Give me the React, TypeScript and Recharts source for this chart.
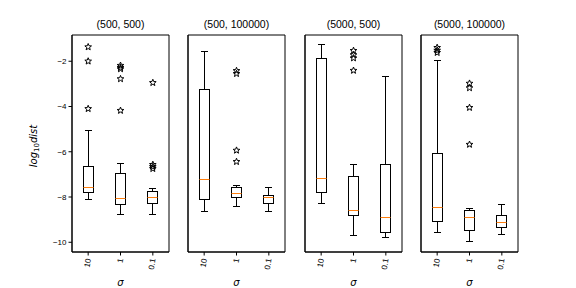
import { Bar, ComposedChart, ReferenceArea, Scatter, XAxis, YAxis } from 'recharts';

const panelTitles = ['(500, 500)', '(500, 100000)', '(5000, 500)', '(5000, 100000)'];
const sigmas = ['10', '1', '0.1'];
const yTicks = [-2, -4, -6, -8, -10];
const yDomain = [-10.43, -0.84];

// one row per panel, one value per sigma
const whiskerLow = [
  [-8.11, -8.77, -8.77],
  [-8.62, -8.4, -8.62],
  [-8.27, -9.69, -9.81],
  [-9.56, -9.96, -9.65],
];
const q1 = [
  [-7.78, -8.33, -8.29],
  [-8.11, -8.02, -8.27],
  [-7.79, -8.81, -9.55],
  [-9.06, -9.46, -9.34],
];
const median = [
  [-7.6, -8.07, -8.02],
  [-7.23, -7.83, -8.02],
  [-7.19, -8.58, -8.9],
  [-8.45, -8.9, -9.12],
];
const q3 = [
  [-6.66, -6.97, -7.76],
  [-3.25, -7.58, -7.93],
  [-1.87, -7.1, -6.56],
  [-6.09, -8.59, -8.81],
];
const whiskerHigh = [
  [-5.05, -6.53, -7.64],
  [-1.58, -7.5, -7.6],
  [-1.24, -6.56, -2.66],
  [-1.96, -8.51, -8.33],
];
const fliers = [
  [[-1.37, -2.0, -4.1], [-2.19, -2.28, -2.34, -2.78, -4.18], [-2.95, -6.57, -6.66, -6.75]],
  [[], [-2.42, -2.55, -5.94, -6.44], []],
  [[], [-1.53, -1.72, -1.86, -2.41], []],
  [[-1.4, -1.52, -1.62], [-2.98, -3.18, -4.05, -5.68], []],
];

const FONT = '"Liberation Sans", Arial, sans-serif';
const MATH_FONT = '"DejaVu Sans", sans-serif';
const ORANGE = '#ff7f0e';
const PLOT_W = 97;
const MAX_FLIERS = 5;

const fmt = (v: number) => String(v).replace('-', '\u2212');
// snap to pixel centres so 1px lines stay crisp
const crisp = (v: number) => Math.round(v - 0.5) + 0.5;

function BoxShape(props: any) {
  const { x, y, width, height, payload } = props;
  if (height == null || isNaN(y)) return <g />;
  const { lo, hi } = payload;
  const py = (v: number) => crisp(y + ((hi - v) / (hi - lo)) * height);
  const x0 = crisp(x);
  const x1 = crisp(x + width);
  const cx = crisp(x + width / 2);
  const cap = 3.5;
  return (
    <g fill="none" stroke="#000" strokeWidth={1}>
      <line x1={cx} x2={cx} y1={py(hi)} y2={py(payload.q3)} />
      <line x1={cx} x2={cx} y1={py(payload.q1)} y2={py(lo)} />
      <line x1={cx - cap} x2={cx + cap} y1={py(hi)} y2={py(hi)} />
      <line x1={cx - cap} x2={cx + cap} y1={py(lo)} y2={py(lo)} />
      <rect x={x0} y={py(payload.q3)} width={x1 - x0} height={py(payload.q1) - py(payload.q3)} />
      <line x1={x0} x2={x1} y1={py(payload.med)} y2={py(payload.med)} stroke={ORANGE} />
    </g>
  );
}

function Star(props: any) {
  const { cx, cy } = props;
  if (cx == null || cy == null || isNaN(cx) || isNaN(cy)) return <g />;
  const pts: string[] = [];
  for (let i = 0; i < 10; i++) {
    const r = i % 2 === 0 ? 3.5 : 1.5;
    const a = -Math.PI / 2 + (i * Math.PI) / 5;
    pts.push(`${cx + r * Math.cos(a)},${cy + r * Math.sin(a)}`);
  }
  return <polygon points={pts.join(' ')} fill="none" stroke="#000" strokeWidth={1} />;
}

function SigmaTick(props: any) {
  const { x, y, payload } = props;
  return (
    <text
      transform={`translate(${x},${y + 1}) rotate(-80)`}
      textAnchor="end"
      dy="0.35em"
      fontSize={8}
      fontFamily={FONT}
      fill="#000"
    >
      {payload.value}
    </text>
  );
}

function Panel({ index }: { index: number }) {
  const first = index === 0;
  const yw = first ? 72 : 8;
  const left = Math.round(72 + 116.4 * index) - yw;

  const data = sigmas.map((s, j) => {
    const row: any = {
      sigma: s,
      lo: whiskerLow[index][j],
      q1: q1[index][j],
      med: median[index][j],
      q3: q3[index][j],
      hi: whiskerHigh[index][j],
    };
    for (let k = 0; k < MAX_FLIERS; k++) {
      row[`o${k}`] = fliers[index][j][k] ?? null;
    }
    return row;
  });

  return (
    <div style={{ position: 'absolute', left, top: 0 }}>
      <ComposedChart
        width={yw + PLOT_W + 2}
        height={288}
        data={data}
        margin={{ top: 35, right: 2, bottom: 0, left: 0 }}
      >
        <XAxis
          dataKey="sigma"
          height={36}
          tickLine={{ stroke: '#000' }}
          axisLine={{ stroke: '#000' }}
          tickSize={3.5}
          tick={<SigmaTick />}
          interval={0}
          label={{
            content: (p: any) => (
              <text
                x={p.viewBox.x + p.viewBox.width / 2}
                y={286}
                textAnchor="middle"
                fontSize={10}
                fontStyle="italic"
                fontFamily={MATH_FONT}
                fill="#000"
              >
                σ
              </text>
            ),
          }}
        />
        <YAxis
          type="number"
          width={yw}
          domain={yDomain}
          allowDataOverflow
          ticks={yTicks}
          tickSize={3.5}
          tickLine={{ stroke: '#000' }}
          axisLine={{ stroke: '#000' }}
          tick={first ? { fontSize: 8, fontFamily: FONT, fill: '#000' } : false}
          tickFormatter={fmt}
          label={
            first
              ? {
                  content: () => (
                    <text
                      transform="translate(37,146) rotate(-90)"
                      textAnchor="middle"
                      fontSize={10}
                      fontFamily={MATH_FONT}
                      fill="#000"
                    >
                      <tspan fontStyle="italic">log</tspan>
                      <tspan fontSize={7} dy={2}>10</tspan>
                      <tspan fontStyle="italic" dy={-2}>dist</tspan>
                    </text>
                  ),
                }
              : undefined
          }
        />
        <ReferenceArea
          y1={yDomain[0]}
          y2={yDomain[1]}
          fill="none"
          stroke="#000"
          strokeWidth={1}
          ifOverflow="visible"
          label={{
            content: (p: any) => (
              <text
                x={p.viewBox.x + p.viewBox.width / 2}
                y={p.viewBox.y - 7}
                textAnchor="middle"
                fontSize={10.5}
                fontFamily={FONT}
                fill="#000"
              >
                {panelTitles[index]}
              </text>
            ),
          }}
        />
        <Bar
          dataKey={(d: any) => [d.lo, d.hi]}
          barSize={10}
          shape={<BoxShape />}
          isAnimationActive={false}
        />
        {Array.from({ length: MAX_FLIERS }, (_, k) => (
          <Scatter
            key={k}
            dataKey={`o${k}`}
            shape={<Star />}
            isAnimationActive={false}
          />
        ))}
      </ComposedChart>
    </div>
  );
}

export default function App() {
  return (
    <div style={{ position: 'absolute', left: 0, top: 0, width: 576, height: 288, background: '#fff' }}>
      {panelTitles.map((_, i) => (
        <Panel key={i} index={i} />
      ))}
    </div>
  );
}
